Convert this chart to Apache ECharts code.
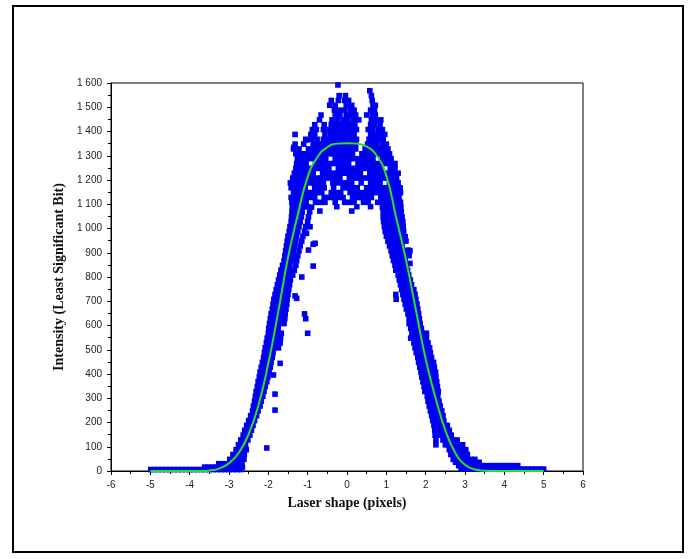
<!DOCTYPE html>
<html>
<head>
<meta charset="utf-8">
<script src="https://cdn.jsdelivr.net/npm/echarts@6/dist/echarts.min.js"></script>
<style>
html,body{margin:0;padding:0;background:#fff;}
#chart{width:690px;height:559px;}
</style>
</head>
<body>
<div id="chart"></div>
<script>
// Axis labels
const xAxisTitle = 'Laser shape (pixels)';
const yAxisTitle = 'Intensity (Least Significant Bit)';

// Fitted curve
const curveX = [-5, -3.6, -3.5, -3.25, -3.0, -2.75, -2.5, -2.25, -2.0, -1.75, -1.5, -1.25, -1.0, -0.75, -0.5, -0.25, 0, 0.25, 0.5, 0.75, 1.0, 1.25, 1.5, 1.75, 2.0, 2.25, 2.5, 2.75, 3.0, 3.25, 3.5, 3.6, 5];
const curveY = [0, 0, 2, 10, 32, 75, 152, 272, 444, 655, 880, 1058, 1212, 1295, 1335, 1350, 1352, 1350, 1338, 1302, 1218, 1045, 870, 665, 462, 302, 168, 76, 26, 6, 1, 0, 0];

// Measured points, rows: [intensity, x positions...]
const leftFlankRows = [
  [6, -4.99,-4.9,-4.8,-4.7,-4.6,-4.5,-4.4,-4.3,-4.2,-4.1,-4.0,-3.9,-3.8,-3.7,-3.6,-3.5,-3.4,-3.3,-3.2,-3.1,-3.0,-2.9,-2.8,-2.7],
  [16, -3.62,-3.52,-3.42,-3.32,-3.22,-3.12,-3.02,-2.92,-2.82,-2.72,-2.66],
  [30, -3.26,-3.16,-3.06,-2.96,-2.86,-2.76,-2.67],
  [48, -2.98,-2.88,-2.78,-2.69,-2.62],
  [68, -2.9,-2.8,-2.7,-2.61],
  [88, -2.82,-2.72,-2.63,-2.56],
  [108, -2.76,-2.67,-2.58],
  [128, -2.7,-2.61,-2.52],
  [148, -2.64,-2.56,-2.47],
  [168, -2.6,-2.51,-2.43],
  [188, -2.55,-2.46,-2.39],
  [208, -2.5,-2.42,-2.35],
  [228, -2.45,-2.38,-2.3],
  [248, -2.4,-2.33,-2.26],
  [268, -2.38,-2.29,-2.21],
  [288, -2.35,-2.26,-2.18],
  [308, -2.33,-2.24,-2.14],
  [328, -2.31,-2.2,-2.11],
  [348, -2.28,-2.18,-2.08],
  [368, -2.26,-2.15,-2.04],
  [388, -2.23,-2.12,-2.01],
  [408, -2.21,-2.1,-1.98],
  [428, -2.18,-2.07,-1.95],
  [448, -2.15,-2.04,-1.93],
  [468, -2.12,-2.02,-1.9],
  [488, -2.1,-1.99,-1.88],
  [508, -2.08,-1.96,-1.85,-1.74],
  [528, -2.05,-1.94,-1.82,-1.7],
  [548, -2.03,-1.91,-1.79,-1.69],
  [568, -2.0,-1.89,-1.77,-1.67],
  [588, -1.99,-1.87,-1.75],
  [608, -1.97,-1.85,-1.73,-1.6],
  [628, -1.95,-1.83,-1.71,-1.58],
  [648, -1.93,-1.81,-1.69,-1.57],
  [668, -1.9,-1.79,-1.67,-1.55],
  [688, -1.88,-1.77,-1.65,-1.53],
  [708, -1.86,-1.75,-1.63,-1.52],
  [728, -1.83,-1.73,-1.61,-1.5],
  [748, -1.8,-1.7,-1.59,-1.48],
  [768, -1.77,-1.67,-1.57,-1.46],
  [788, -1.74,-1.64,-1.54,-1.44],
  [808, -1.71,-1.61,-1.5,-1.38],
  [828, -1.68,-1.58,-1.47,-1.34],
  [848, -1.64,-1.55,-1.45,-1.3],
  [868, -1.6,-1.52,-1.42,-1.28],
  [888, -1.58,-1.49,-1.39,-1.25],
  [908, -1.56,-1.46,-1.36,-1.22],
  [928, -1.54,-1.44,-1.33,-1.19],
  [948, -1.52,-1.42,-1.3,-1.15],
  [968, -1.5,-1.4,-1.28,-1.12],
  [988, -1.47,-1.37,-1.25,-1.08],
  [1008, -1.45,-1.35,-1.22,-1.05],
  [1028, -1.42,-1.32,-1.19,-1.0],
  [1048, -1.41,-1.3,-1.16,-0.98],
  [1068, -1.4,-1.28,-1.14,-0.95],
  [1088, -1.39,-1.27,-1.12,-0.9]
];

const leftOutliers = [
  [-2.04, 95], [-1.83, 251], [-1.83, 317], [-1.87, 396], [-1.7, 444],
  [-1.28, 712], [-1.32, 722], [-1.08, 648], [-1.05, 628], [-1.0, 568],
  [-1.15, 800], [-0.86, 845], [-0.98, 911], [-0.81, 939], [-0.86, 935],
  [-0.94, 1007], [-1.03, 980]
];

const rightFlankRows = [
  [1088, 0.9,1.02,1.14,1.26,1.37],
  [1068, 0.92,1.04,1.16,1.28,1.38],
  [1048, 0.92,1.05,1.18,1.3,1.4],
  [1028, 0.93,1.06,1.19,1.31,1.42],
  [1008, 0.95,1.08,1.2,1.32,1.43],
  [988, 0.97,1.1,1.22,1.34,1.44],
  [968, 1.0,1.12,1.24,1.36],
  [948, 1.04,1.15,1.27,1.38,1.5],
  [928, 1.08,1.18,1.29,1.4],
  [908, 1.12,1.22,1.32,1.43,1.6],
  [888, 1.15,1.25,1.35,1.46,1.58],
  [868, 1.18,1.28,1.38,1.48],
  [848, 1.22,1.31,1.41,1.51],
  [828, 1.24,1.34,1.44,1.54],
  [808, 1.3,1.38,1.47,1.57],
  [788, 1.33,1.42,1.51,1.61],
  [768, 1.36,1.45,1.54,1.64],
  [748, 1.39,1.48,1.58,1.7],
  [728, 1.24,1.42,1.51,1.61,1.73],
  [708, 1.25,1.45,1.54,1.64,1.75],
  [688, 1.48,1.57,1.67,1.78],
  [668, 1.51,1.6,1.7,1.8],
  [648, 1.55,1.63,1.73,1.82],
  [628, 1.58,1.66,1.75,1.84],
  [608, 1.58,1.68,1.78,1.86],
  [588, 1.62,1.71,1.8,1.89],
  [568, 1.65,1.74,1.83,1.92,2.02],
  [548, 1.62,1.72,1.82,1.92,2.02],
  [528, 1.7,1.79,1.88,1.97,2.06],
  [508, 1.73,1.82,1.91,2.0,2.1],
  [488, 1.76,1.85,1.94,2.03,2.12],
  [468, 1.8,1.88,1.97,2.06,2.15],
  [448, 1.82,1.91,2.0,2.09,2.2],
  [428, 1.85,1.94,2.03,2.12,2.22],
  [408, 1.88,1.97,2.06,2.15,2.25],
  [388, 1.9,1.99,2.08,2.17,2.26],
  [368, 1.93,2.02,2.11,2.2,2.28],
  [348, 1.96,2.05,2.14,2.23,2.3],
  [328, 1.98,2.08,2.17,2.26,2.32],
  [308, 2.04,2.13,2.22,2.31],
  [288, 2.06,2.15,2.24,2.34],
  [268, 2.09,2.18,2.27,2.37],
  [248, 2.12,2.21,2.3,2.41],
  [228, 2.15,2.24,2.33,2.44],
  [208, 2.18,2.27,2.36,2.46],
  [188, 2.21,2.3,2.39,2.49,2.55],
  [168, 2.23,2.31,2.41,2.51,2.6],
  [148, 2.24,2.38,2.46,2.55,2.65],
  [128, 2.26,2.44,2.52,2.6,2.7,2.8],
  [108, 2.26,2.5,2.58,2.66,2.76,2.86,2.94],
  [88, 2.6,2.68,2.76,2.86,2.96,3.02],
  [68, 2.64,2.72,2.8,2.9,3.0,3.06],
  [48, 2.7,2.78,2.86,2.95,3.05,3.15,3.25],
  [36, 2.76,2.86,2.96,3.06,3.16,3.26,3.36],
  [22, 2.84,2.94,3.04,3.14,3.24,3.34,3.44,3.54,3.64,3.74,3.84,3.94,4.04,4.14,4.24,4.34],
  [8, 2.9,3.0,3.1,3.2,3.3,3.4,3.5,3.6,3.7,3.8,3.9,4.0,4.1,4.2,4.3,4.4,4.5,4.6,4.7,4.8,4.9,5.0]
];

const peakRows = [
  [1072, -0.69,0.12],
  [1090, -1.0,-0.26,0.25,0.6],
  [1108, -1.4,-1.28,-1.16,-1.04,-0.8,-0.68,-0.56,-0.3,-0.06,0.06,0.18,0.42,0.54,0.78,0.9,1.02,1.14,1.26,1.36],
  [1128, -1.42,-1.3,-1.18,-1.06,-0.94,-0.82,-0.58,-0.46,-0.34,-0.22,-0.1,0.14,0.26,0.38,0.5,0.62,0.86,0.98,1.1,1.22,1.32],
  [1148, -1.36,-1.24,-1.12,-1.0,-0.88,-0.76,-0.64,-0.4,-0.28,-0.16,0.08,0.2,0.32,0.44,0.56,0.68,0.8,0.92,1.04,1.16,1.28,1.36],
  [1168, -1.42,-1.3,-1.18,-1.06,-0.82,-0.7,-0.58,-0.34,-0.1,0.02,0.14,0.26,0.5,0.62,0.74,0.86,0.98,1.1,1.22,1.34],
  [1188, -1.44,-1.32,-1.2,-1.08,-0.96,-0.84,-0.72,-0.6,-0.36,-0.24,-0.12,0.0,0.12,0.36,0.6,0.72,0.84,1.08,1.2,1.3],
  [1208, -1.38,-1.26,-1.14,-1.02,-0.9,-0.78,-0.66,-0.54,-0.42,-0.3,-0.18,0.06,0.18,0.3,0.42,0.54,0.66,0.78,0.9,1.02,1.14,1.26],
  [1228, -1.34,-1.22,-1.1,-0.98,-0.86,-0.62,-0.5,-0.38,-0.26,-0.14,-0.02,0.1,0.22,0.34,0.58,0.7,0.82,0.94,1.06,1.18,1.3],
  [1248, -1.3,-1.18,-1.06,-0.94,-0.82,-0.7,-0.58,-0.46,-0.22,-0.1,0.02,0.14,0.26,0.38,0.5,0.62,0.74,0.86,1.1,1.22],
  [1268, -1.28,-1.16,-1.04,-0.8,-0.68,-0.56,-0.44,-0.32,-0.2,-0.08,0.04,0.28,0.4,0.52,0.64,0.76,0.88,1.0,1.12,1.22],
  [1288, -1.26,-1.14,-1.02,-0.9,-0.78,-0.66,-0.54,-0.3,-0.18,-0.06,0.06,0.18,0.3,0.42,0.54,0.66,0.9,1.02,1.12],
  [1308, -1.3,-1.18,-1.06,-0.94,-0.82,-0.7,-0.58,-0.46,-0.34,-0.22,-0.1,0.02,0.14,0.38,0.5,0.62,0.74,0.86,0.98,1.08],
  [1328, -1.36,-1.22,-0.98,-0.86,-0.74,-0.62,-0.5,-0.38,-0.26,-0.14,-0.02,0.1,0.22,0.46,0.58,0.7,0.82,0.94,1.04],
  [1348, -1.32,-1.1,-0.86,-0.74,-0.62,-0.5,-0.38,-0.26,-0.14,-0.02,0.1,0.22,0.52,0.64,0.76,0.9,1.0],
  [1368, -1.05,-0.9,-0.76,-0.6,-0.48,-0.36,-0.24,-0.12,0.0,0.12,0.24,0.56,0.68,0.8,0.92],
  [1388, -1.32,-0.92,-0.82,-0.56,-0.42,-0.3,-0.18,-0.06,0.06,0.18,0.6,0.72,0.84,0.96],
  [1408, -0.88,-0.78,-0.6,-0.46,-0.34,-0.22,-0.1,0.02,0.14,0.24,0.54,0.66,0.8,0.9],
  [1428, -0.82,-0.58,-0.4,-0.28,-0.16,-0.04,0.08,0.2,0.6,0.7,0.84],
  [1448, -0.7,-0.38,-0.24,-0.1,0.02,0.16,0.3,0.62,0.74,0.86],
  [1468, -0.66,-0.3,-0.18,-0.02,0.1,0.22,0.5,0.64,0.72],
  [1488, -0.32,-0.2,-0.06,0.08,0.18,0.6,0.7],
  [1508, -0.44,-0.3,-0.02,0.12,0.66,0.72],
  [1528, -0.4,-0.22,-0.06,0.04,0.64],
  [1548, -0.2,-0.04,0.62],
  [1568, 0.58],
  [1592, -0.23]
];

const peakOutliers = [
  [1.35, 1166], [1.31, 1118], [1.35, 1063], [1.48, 966], [1.56, 911], [1.6, 856],
  [-1.35, 1335], [-1.03, 1365], [-0.86, 1379]
];

function rowsToPoints(rows) {
  const out = [];
  rows.forEach(r => { for (let i = 1; i < r.length; i++) out.push([r[i], r[0]]); });
  return out;
}

const scatterData = []
  .concat(rowsToPoints(leftFlankRows))
  .concat(leftOutliers)
  .concat(rowsToPoints(rightFlankRows))
  .concat(rowsToPoints(peakRows))
  .concat(peakOutliers);

const curveData = curveX.map((x, i) => [x, curveY[i]]);

const chart = echarts.init(document.getElementById('chart'), null, {renderer: 'canvas'});

const tickFont = {fontFamily: 'Liberation Sans, Arial, sans-serif', fontSize: 10, color: '#222'};
const titleFont = {fontFamily: 'Liberation Serif, Times New Roman, serif', fontSize: 14, fontWeight: 'bold', color: '#111'};

chart.setOption({
  animation: false,
  backgroundColor: '#fff',
  grid: {left: 111, right: 107, top: 83, bottom: 88, show: true, borderColor: '#000', borderWidth: 1, backgroundColor: 'transparent'},
  xAxis: {
    type: 'value', min: -6, max: 6, interval: 1,
    name: xAxisTitle, nameLocation: 'middle', nameGap: 25,
    nameTextStyle: titleFont,
    axisLine: {show: true, onZero: false, lineStyle: {color: '#000', width: 1}},
    axisTick: {show: true, inside: false, length: 4, lineStyle: {color: '#000'}},
    minorTick: {show: true, splitNumber: 2, length: 3, lineStyle: {color: '#000'}},
    axisLabel: Object.assign({margin: 9}, tickFont),
    splitLine: {show: false}
  },
  yAxis: {
    type: 'value', min: 0, max: 1600, interval: 100,
    name: yAxisTitle, nameLocation: 'middle', nameGap: 44,
    nameTextStyle: titleFont,
    axisLine: {show: true, onZero: false, lineStyle: {color: '#000', width: 1}},
    axisTick: {show: true, inside: false, length: 4, lineStyle: {color: '#000'}},
    minorTick: {show: true, splitNumber: 2, length: 3, lineStyle: {color: '#000'}},
    axisLabel: Object.assign({margin: 9, formatter: v => String(v).replace(/\B(?=(\d{3})+(?!\d))/g, ' ')}, tickFont),
    splitLine: {show: false}
  },
  graphic: [{
    type: 'rect', silent: true, z: 100,
    shape: {x: 13, y: 6, width: 670, height: 546},
    style: {fill: 'none', stroke: '#000', lineWidth: 2}
  }],
  series: [
    {
      type: 'scatter', data: scatterData, symbol: 'rect', symbolSize: 5.6,
      itemStyle: {color: '#0000f0', opacity: 1}, z: 2, clip: true
    },
    {
      type: 'line', data: curveData, showSymbol: false, symbol: 'none',
      smooth: 0.5,
      lineStyle: {color: '#22e622', width: 2}, z: 3
    }
  ]
});
</script>
</body>
</html>
